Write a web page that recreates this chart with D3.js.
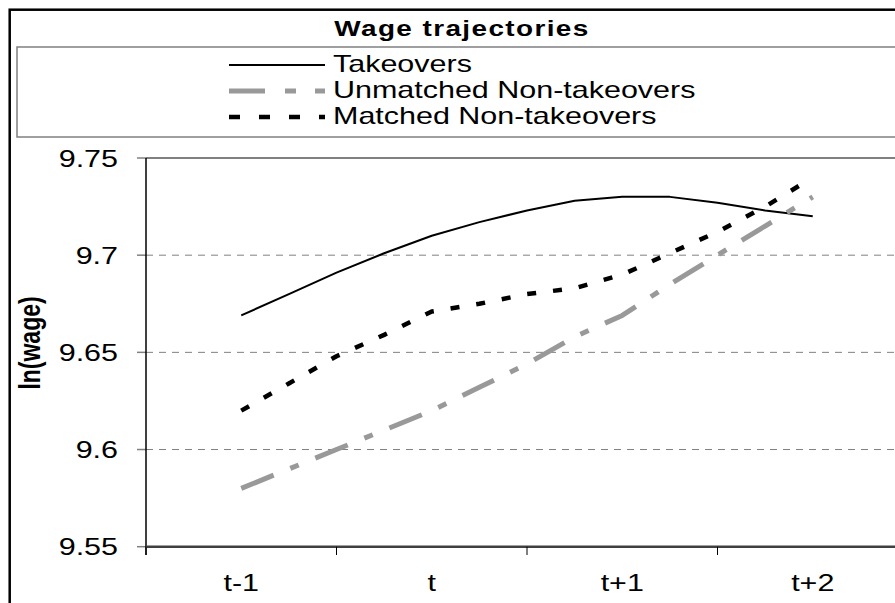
<!DOCTYPE html>
<html>
<head>
<meta charset="utf-8">
<script src="https://cdn.jsdelivr.net/npm/d3@7"></script>
<style>
  body { margin: 0; background: #fff; }
  text { font-family: "Liberation Sans", Arial, sans-serif; fill: #000; }
</style>
</head>
<body>
<script>
// data (quarterly points between the periods)
const periods = ["t-1", "t", "t+1", "t+2"];
const steps = [0, 0.25, 0.5, 0.75, 1, 1.25, 1.5, 1.75, 2, 2.25, 2.5, 2.75, 3];
const takeovers = [9.669, 9.680, 9.691, 9.701, 9.710, 9.717, 9.723, 9.728, 9.730, 9.730, 9.727, 9.723, 9.720];
const unmatched = [9.580, 9.590, 9.600, 9.610, 9.620, 9.632, 9.644, 9.658, 9.669, 9.685, 9.700, 9.715, 9.730];
const matched = [9.620, 9.634, 9.648, 9.659, 9.671, 9.675, 9.680, 9.683, 9.690, 9.701, 9.712, 9.725, 9.740];
const yTicks = [9.55, 9.6, 9.65, 9.7, 9.75];
const seriesNames = ["Takeovers", "Unmatched Non-takeovers", "Matched Non-takeovers"];

const w = 895, h = 603;
const sx = 1.27; // the picture is stretched sideways

const svg = d3.select("body").append("svg")
    .attr("width", w)
    .attr("height", h);

svg.append("rect").attr("width", w).attr("height", h).attr("fill", "#fff");

const x = d3.scaleLinear().domain([-0.5, 3.5]).range([146, 908]);
const y = d3.scaleLinear().domain([9.55, 9.75]).range([546.7, 158]);

const styles = [
    { stroke: "#000", width: 2, dash: null },
    { stroke: "#999", width: 5, dash: "35,18,9,18" },
    { stroke: "#000", width: 4.5, dash: "9,17" }
];

function label(g, px, py, txt, size, anchor, bold) {
    return g.append("text")
        .attr("transform", "translate(" + px + "," + py + ") scale(" + sx + ",1)")
        .attr("text-anchor", anchor)
        .attr("font-size", size)
        .attr("font-weight", bold ? "bold" : "normal")
        .text(txt);
}

// outer frame
svg.append("rect")
    .attr("x", 9.7).attr("y", 9.7)
    .attr("width", 915).attr("height", 640)
    .attr("fill", "none").attr("stroke", "#000").attr("stroke-width", 2.5);

// title
label(svg, 462, 36, "Wage trajectories", 22, "middle", true)
    .attr("letter-spacing", 1.1);

// legend
svg.append("rect")
    .attr("x", 17).attr("y", 47)
    .attr("width", 900).attr("height", 90)
    .attr("fill", "none").attr("stroke", "#808080").attr("stroke-width", 1.5);

const legend = svg.append("g");
seriesNames.forEach(function (name, i) {
    const ly = 65 + i * 26;
    legend.append("line")
        .attr("x1", 229).attr("x2", 325)
        .attr("y1", ly).attr("y2", ly)
        .attr("stroke", styles[i].stroke)
        .attr("stroke-width", styles[i].width)
        .attr("stroke-dasharray", i === 1 ? "36,20,11,19" : i === 2 ? "11,19" : null);
    label(legend, 333, ly + 6.5, name, 24, "start", false);
});

// gridlines
const grid = svg.append("g");
yTicks.slice(1).forEach(function (v) {
    grid.append("line")
        .attr("x1", x(-0.5)).attr("x2", w)
        .attr("y1", y(v)).attr("y2", y(v))
        .attr("stroke", "#808080")
        .attr("stroke-width", v === 9.75 ? 2 : 1)
        .attr("stroke-dasharray", v === 9.75 ? null : "7,6");
});

// y axis
const yAxis = svg.append("g");
yTicks.forEach(function (v) {
    yAxis.append("line")
        .attr("x1", 137).attr("x2", x(-0.5))
        .attr("y1", y(v)).attr("y2", y(v))
        .attr("stroke", "#808080").attr("stroke-width", 1.5);
    label(yAxis, 118, y(v) + 8.5, d3.format("")(v), 24, "end", false);
});
yAxis.append("line")
    .attr("x1", x(-0.5)).attr("x2", x(-0.5))
    .attr("y1", y(9.75)).attr("y2", 555)
    .attr("stroke", "#000").attr("stroke-width", 1.5);

svg.append("text")
    .attr("transform", "translate(40,343) rotate(-90) scale(1," + sx + ")")
    .attr("text-anchor", "middle")
    .attr("font-size", 23)
    .attr("font-weight", "bold")
    .text("ln(wage)");

// x axis
const xAxis = svg.append("g");
xAxis.append("line")
    .attr("x1", x(-0.5)).attr("x2", w)
    .attr("y1", y(9.55)).attr("y2", y(9.55))
    .attr("stroke", "#404040").attr("stroke-width", 2.5);
d3.range(periods.length).forEach(function (i) {
    xAxis.append("line")
        .attr("x1", x(i - 0.5)).attr("x2", x(i - 0.5))
        .attr("y1", y(9.55)).attr("y2", 555)
        .attr("stroke", "#000").attr("stroke-width", 1);
    label(xAxis, x(i), 591, periods[i], 24, "middle", false);
});

// series
const line = d3.line()
    .x(function (d, i) { return x(steps[i]); })
    .y(function (d) { return y(d); });

[takeovers, unmatched, matched].forEach(function (vals, i) {
    svg.append("path")
        .datum(vals)
        .attr("d", line)
        .attr("fill", "none")
        .attr("stroke", styles[i].stroke)
        .attr("stroke-width", styles[i].width)
        .attr("stroke-dasharray", styles[i].dash)
        .attr("stroke-linejoin", "round");
});
</script>
</body>
</html>
